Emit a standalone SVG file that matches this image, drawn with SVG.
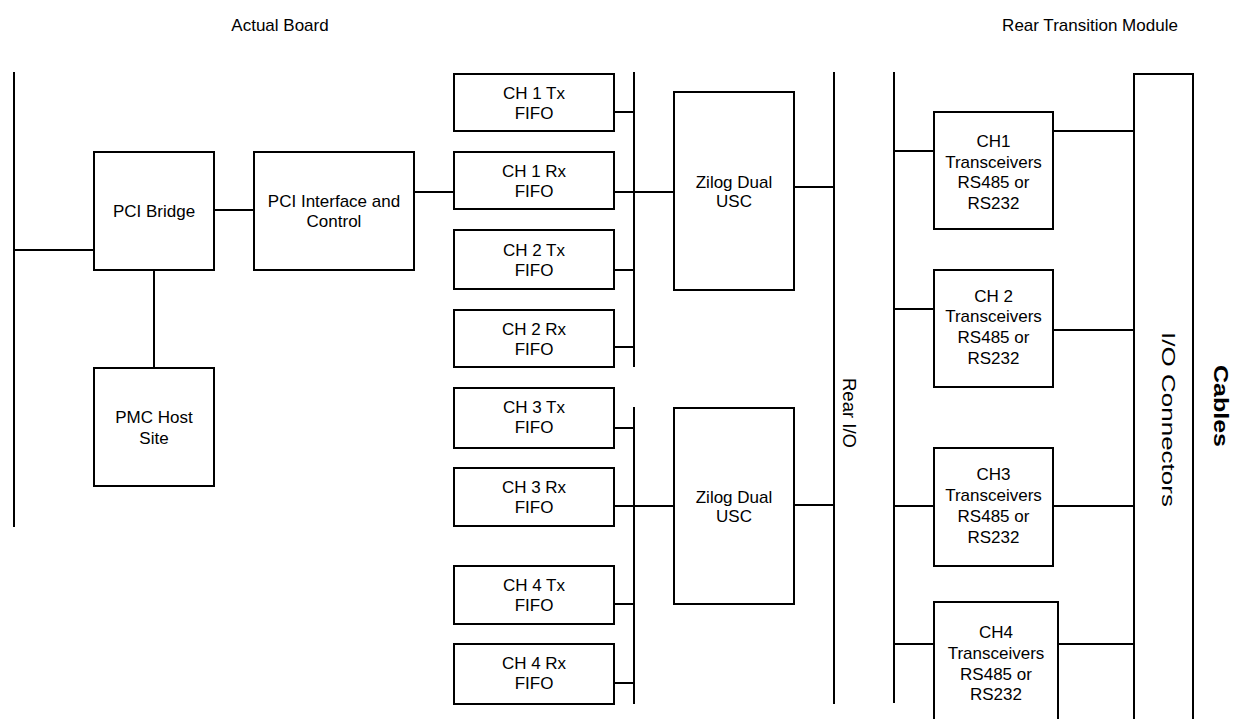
<svg xmlns="http://www.w3.org/2000/svg" width="1238" height="719" viewBox="0 0 1238 719">
<style>
.box{fill:#fff;stroke:#000;stroke-width:2}
.ln{stroke:#000;stroke-width:2;fill:none}
text{font-family:"Liberation Sans",Arial,sans-serif;font-size:17px;fill:#000}
.c{text-anchor:middle}
.b{font-weight:bold}
</style>
<rect width="1238" height="719" fill="#fff"/>
<g id="titles">
<text class="c" x="280" y="31">Actual Board</text>
<text class="c" x="1090" y="31">Rear Transition Module</text>
</g>
<g id="connectors">
<line class="ln" x1="14" y1="72" x2="14" y2="527"/>
<line class="ln" x1="14" y1="250" x2="94" y2="250"/>
<line class="ln" x1="214" y1="210" x2="254" y2="210"/>
<line class="ln" x1="154" y1="270" x2="154" y2="368"/>
<line class="ln" x1="414" y1="192" x2="454" y2="192"/>
<line class="ln" x1="634" y1="72" x2="634" y2="367"/>
<line class="ln" x1="614" y1="112" x2="634" y2="112"/>
<line class="ln" x1="614" y1="192" x2="674" y2="192"/>
<line class="ln" x1="614" y1="270" x2="634" y2="270"/>
<line class="ln" x1="614" y1="347" x2="634" y2="347"/>
<line class="ln" x1="634" y1="407" x2="634" y2="704"/>
<line class="ln" x1="614" y1="428" x2="634" y2="428"/>
<line class="ln" x1="614" y1="506" x2="674" y2="506"/>
<line class="ln" x1="614" y1="604" x2="634" y2="604"/>
<line class="ln" x1="614" y1="683" x2="634" y2="683"/>
<line class="ln" x1="794" y1="187" x2="834" y2="187"/>
<line class="ln" x1="794" y1="505" x2="834" y2="505"/>
<line class="ln" x1="834" y1="72" x2="834" y2="704"/>
<line class="ln" x1="894" y1="72" x2="894" y2="703"/>
<line class="ln" x1="894" y1="151" x2="934" y2="151"/>
<line class="ln" x1="894" y1="309" x2="934" y2="309"/>
<line class="ln" x1="894" y1="506" x2="934" y2="506"/>
<line class="ln" x1="894" y1="644" x2="934" y2="644"/>
<line class="ln" x1="1053" y1="131" x2="1134" y2="131"/>
<line class="ln" x1="1053" y1="330" x2="1134" y2="330"/>
<line class="ln" x1="1053" y1="506" x2="1134" y2="506"/>
<line class="ln" x1="1058" y1="644" x2="1134" y2="644"/>
</g>
<g id="pci-bridge"><rect class="box" x="94" y="152" width="120" height="118"/><text class="c" x="154" y="217">PCI Bridge</text></g>
<g id="pci-interface"><rect class="box" x="254" y="152" width="160" height="118"/><text class="c" x="334" y="207">PCI Interface and</text><text class="c" x="334" y="227">Control</text></g>
<g id="pmc-host"><rect class="box" x="94" y="368" width="120" height="118"/><text class="c" x="154" y="423">PMC Host</text><text class="c" x="154" y="444">Site</text></g>
<g id="ch1-tx"><rect class="box" x="454" y="74" width="160" height="57"/><text class="c" x="534" y="99">CH 1 Tx</text><text class="c" x="534" y="119">FIFO</text></g>
<g id="ch1-rx"><rect class="box" x="454" y="152" width="160" height="57"/><text class="c" x="534" y="177">CH 1 Rx</text><text class="c" x="534" y="197">FIFO</text></g>
<g id="ch2-tx"><rect class="box" x="454" y="230" width="160" height="59"/><text class="c" x="534" y="256">CH 2 Tx</text><text class="c" x="534" y="276">FIFO</text></g>
<g id="ch2-rx"><rect class="box" x="454" y="310" width="160" height="57"/><text class="c" x="534" y="335">CH 2 Rx</text><text class="c" x="534" y="355">FIFO</text></g>
<g id="ch3-tx"><rect class="box" x="454" y="388" width="160" height="60"/><text class="c" x="534" y="413">CH 3 Tx</text><text class="c" x="534" y="433">FIFO</text></g>
<g id="ch3-rx"><rect class="box" x="454" y="468" width="160" height="58"/><text class="c" x="534" y="493">CH 3 Rx</text><text class="c" x="534" y="513">FIFO</text></g>
<g id="ch4-tx"><rect class="box" x="454" y="566" width="160" height="58"/><text class="c" x="534" y="591">CH 4 Tx</text><text class="c" x="534" y="611">FIFO</text></g>
<g id="ch4-rx"><rect class="box" x="454" y="644" width="160" height="60"/><text class="c" x="534" y="669">CH 4 Rx</text><text class="c" x="534" y="689">FIFO</text></g>
<g id="zilog-1"><rect class="box" x="674" y="92" width="120" height="198"/><text class="c" x="734" y="188">Zilog Dual</text><text class="c" x="734" y="207">USC</text></g>
<g id="zilog-2"><rect class="box" x="674" y="408" width="120" height="196"/><text class="c" x="734" y="503">Zilog Dual</text><text class="c" x="734" y="522">USC</text></g>
<g id="rear-io"><text class="c" transform="translate(843,413) rotate(90)" x="0" y="0" font-size="19" textLength="70" lengthAdjust="spacingAndGlyphs" style="font-size:19px">Rear I/O</text></g>
<g id="xcvr-1"><rect class="box" x="934" y="112" width="119" height="117"/><text class="c" x="993.5" y="147">CH1</text><text class="c" x="993.5" y="168">Transceivers</text><text class="c" x="993.5" y="188">RS485 or</text><text class="c" x="993.5" y="209">RS232</text></g>
<g id="xcvr-2"><rect class="box" x="934" y="270" width="119" height="117"/><text class="c" x="993.5" y="302">CH 2</text><text class="c" x="993.5" y="322">Transceivers</text><text class="c" x="993.5" y="343">RS485 or</text><text class="c" x="993.5" y="364">RS232</text></g>
<g id="xcvr-3"><rect class="box" x="934" y="448" width="119" height="118"/><text class="c" x="993.5" y="480">CH3</text><text class="c" x="993.5" y="501">Transceivers</text><text class="c" x="993.5" y="522">RS485 or</text><text class="c" x="993.5" y="543">RS232</text></g>
<g id="xcvr-4"><rect class="box" x="934" y="602" width="124" height="130"/><text class="c" x="996" y="638">CH4</text><text class="c" x="996" y="659">Transceivers</text><text class="c" x="996" y="680">RS485 or</text><text class="c" x="996" y="700">RS232</text></g>
<g id="io-connectors"><rect class="box" x="1134" y="74" width="59" height="660"/><text class="c" transform="translate(1162,419.5) rotate(90)" x="0" y="0" textLength="175" lengthAdjust="spacingAndGlyphs" style="font-size:19px">I/O Connectors</text></g>
<g id="cables"><text class="c b" transform="translate(1214,406) rotate(90)" x="0" y="0" textLength="82" lengthAdjust="spacingAndGlyphs" style="font-size:21px">Cables</text></g>
</svg>
